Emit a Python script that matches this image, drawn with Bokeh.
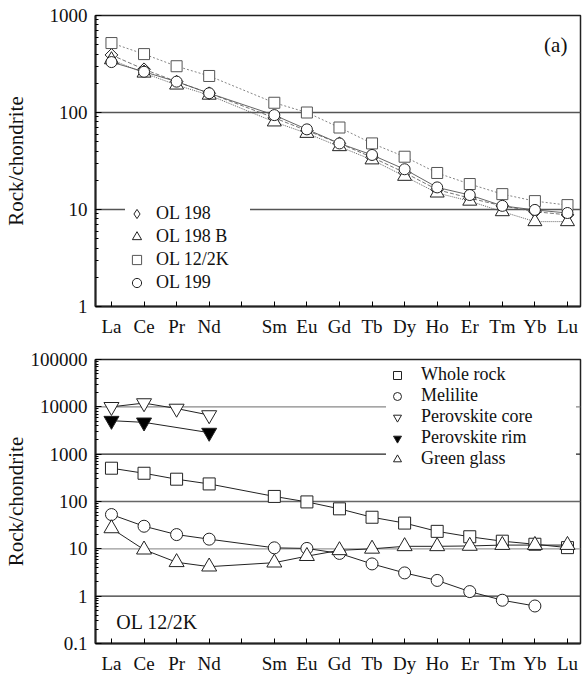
import math
from bokeh.plotting import figure
from bokeh.models import (FixedTicker, CustomJSTickFormatter, Span, Legend,
                          LegendItem, Label, Range1d)
from bokeh.layouts import column
from bokeh.embed import file_html
from bokeh.resources import INLINE

# ---------------- data ----------------
elements = ["La", "Ce", "Pr", "Nd", "Pm", "Sm", "Eu", "Gd", "Tb", "Dy",
            "Ho", "Er", "Tm", "Yb", "Lu"]
tick_labels = ["La", "Ce", "Pr", "Nd", "", "Sm", "Eu", "Gd", "Tb", "Dy",
               "Ho", "Er", "Tm", "Yb", "Lu"]
ree = ["La", "Ce", "Pr", "Nd", "Sm", "Eu", "Gd", "Tb", "Dy", "Ho", "Er",
       "Tm", "Yb", "Lu"]

# panel (a)
ol198 = [392, 279, 208, 158, 88, 65, 48, 34.5, 24, 16, 13.1, 10.9, 9.5, 8.8]
ol198b = [350, 255, 192, 151, 80, 61, 44.5, 32.5, 22, 14.8, 12.2, 9.5, 7.5, 7.5]
ol12_2k = [520, 400, 300, 238, 126, 100, 70, 48, 35, 23.8, 18.3, 14.4, 12.2, 11.1]
ol199 = [331, 263, 208, 158, 94, 67, 48, 36.5, 26, 16.9, 14.1, 10.9, 9.9, 9.2]

# panel (b)
whole_rock = [505, 395, 296, 235, 128, 98, 70, 46.5, 35, 23.4, 18, 14.5, 12.5, 10.6]
melilite_ree = ["La", "Ce", "Pr", "Nd", "Sm", "Eu", "Gd", "Tb", "Dy", "Ho",
                "Er", "Tm", "Yb"]
melilite = [53, 30, 20, 16, 10.5, 10.2, 8, 4.8, 3.1, 2.15, 1.25, 0.82, 0.62]
pcore_ree = ["La", "Ce", "Pr", "Nd"]
perovskite_core = [10000, 12000, 9200, 6700]
prim_ree = ["La", "Ce", "Nd"]
perovskite_rim = [5100, 4700, 2850]
green_glass = [27, 9.6, 5.2, 4.2, 5.1, 7.0, 9.3, 10, 11.3, 11.3, 11.5, 12, 12, 12]


def xpos(names):
    return [elements.index(n) + 1 for n in names]


FONT = "Liberation Serif"


def style(p, majors, ylabel_standoff):
    p.xgrid.visible = False
    p.ygrid.visible = False
    p.outline_line_color = "#222"
    p.outline_line_width = 1.5
    xa = p.xaxis[0]
    xa.ticker = FixedTicker(ticks=list(range(1, 16)))
    xa.major_label_overrides = {i + 1: t for i, t in enumerate(tick_labels)}
    xa.major_tick_in = 5
    xa.major_tick_out = 0
    xa.minor_tick_line_color = None
    xa.major_label_standoff = 9
    xa.major_label_text_font = FONT
    xa.major_label_text_font_size = "19px"
    xa.major_label_text_color = "#111"
    xa.axis_line_width = 2
    xa.axis_line_color = "#222"
    ya = p.yaxis[0]
    minors = [m * d for d in majors[:-1] for m in range(2, 10)]
    ya.ticker = FixedTicker(ticks=majors, minor_ticks=minors)
    ya.formatter = CustomJSTickFormatter(
        code="return tick < 1 ? tick.toFixed(1) : tick.toFixed(0);")
    ya.major_tick_in = 6
    ya.major_tick_out = 0
    ya.minor_tick_in = 3
    ya.minor_tick_out = 0
    ya.major_label_standoff = 8
    ya.major_label_text_font = FONT
    ya.major_label_text_font_size = "19px"
    ya.major_label_text_color = "#111"
    ya.axis_line_width = 2
    ya.axis_line_color = "#222"
    ya.axis_label = "Rock/chondrite"
    ya.axis_label_text_font = FONT
    ya.axis_label_text_font_size = "21px"
    ya.axis_label_text_font_style = "normal"
    ya.axis_label_text_color = "#111"
    ya.axis_label_standoff = ylabel_standoff


# ---------------- panel (a) ----------------
p1 = figure(width=582, height=340, y_axis_type="log",
            x_range=Range1d(0.51, 15.4), y_range=Range1d(1, 1000),
            output_backend="svg", toolbar_location=None,
            min_border_left=92, min_border_right=2,
            min_border_top=15, min_border_bottom=34)
style(p1, [1, 10, 100, 1000], 19)
for v in [10, 100]:
    p1.add_layout(Span(location=v, dimension="width", line_color="#555",
                       line_width=1.5, level="underlay"))

xa_ = xpos(ree)
series_a = [
    ("OL 198", ol198, "diamond", 12, "#222", "4 2", "#666"),
    ("OL 198 B", ol198b, "triangle", 14, "#222", "1 1", "#555"),
    ("OL 12/2K", ol12_2k, "square", 11, "#555", "2 2", "#777"),
    ("OL 199", ol199, "circle", 11, "#222", "solid", "#555"),
]
items_a = []
for name, vals, mk, sz, mc, dash, lc in series_a:
    p1.line(xa_, vals, line_color=lc, line_width=0.9, line_dash=dash)
    r = p1.scatter(xa_, vals, marker=mk, size=sz, line_color=mc,
                   line_width=1, fill_color="white")
    if mk == "diamond":
        # wider diamond in the plot (rotated square) drawn over the narrow one
        p1.scatter(xa_, vals, marker="square", size=9, angle=math.pi / 4,
                   line_color=mc, line_width=1, fill_color="white")
    items_a.append(LegendItem(label=name, renderers=[r]))

leg_a = Legend(items=items_a, location=(30, 12), glyph_width=23,
               glyph_height=23, spacing=0, padding=0, margin=0,
               label_standoff=8, label_width=94, label_height=20,
               label_text_font=FONT, label_text_font_size="18px",
               label_text_color="#111",
               background_fill_color="white", background_fill_alpha=1,
               border_line_color=None)
p1.add_layout(leg_a)
p1.add_layout(Label(x=14.64, y=497, text="(a)", text_align="center",
                    text_baseline="middle", text_font=FONT,
                    text_font_size="21px", text_color="#111"))

# ---------------- panel (b) ----------------
p2 = figure(width=582, height=337, y_axis_type="log",
            x_range=Range1d(0.51, 15.4), y_range=Range1d(0.1, 100000),
            output_backend="svg", toolbar_location=None,
            min_border_left=92, min_border_right=2,
            min_border_top=19, min_border_bottom=34)
style(p2, [0.1, 1, 10, 100, 1000, 10000, 100000], 0)
for v, c in [(1, "#333"), (10, "#999"), (100, "#666"), (1000, "#222"),
             (10000, "#888")]:
    p2.add_layout(Span(location=v, dimension="width", line_color=c,
                       line_width=1.3, level="underlay"))

series_b = [
    ("Whole rock", ree, whole_rock, "square", 12, "white"),
    ("Melilite", melilite_ree, melilite, "circle", 12, "white"),
    ("Perovskite core", pcore_ree, perovskite_core, "inverted_triangle", 15, "white"),
    ("Perovskite rim", prim_ree, perovskite_rim, "inverted_triangle", 15, "black"),
    ("Green glass", ree, green_glass, "triangle", 15, "white"),
]
items_b = []
for name, names, vals, mk, sz, fc in series_b:
    xs = xpos(names)
    p2.line(xs, vals, line_color="#222", line_width=1)
    r = p2.scatter(xs, vals, marker=mk, size=sz, line_color="#222",
                   line_width=1, fill_color=fc)
    items_b.append(LegendItem(label=name, renderers=[r]))

leg_b = Legend(items=items_b, location=(291, 174), glyph_width=22,
               glyph_height=20, spacing=0, padding=0, margin=0,
               label_standoff=13, label_width=155, label_height=20,
               label_text_font=FONT, label_text_font_size="18px",
               label_text_color="#111",
               background_fill_color="white", background_fill_alpha=1,
               border_line_color=None)
p2.add_layout(leg_b)
p2.add_layout(Label(x=14.52, y=25600, text="(b)", text_align="center",
                    text_baseline="middle", text_font=FONT,
                    text_font_size="22px", text_color="#111"))
p2.add_layout(Label(x=1.15, y=0.291, text="OL 12/2K", text_align="left",
                    text_baseline="middle", text_font=FONT,
                    text_font_size="20px", text_color="#111"))

layout = column(p1, p2, spacing=0)
open("out.html", "w").write(file_html(layout, INLINE))
